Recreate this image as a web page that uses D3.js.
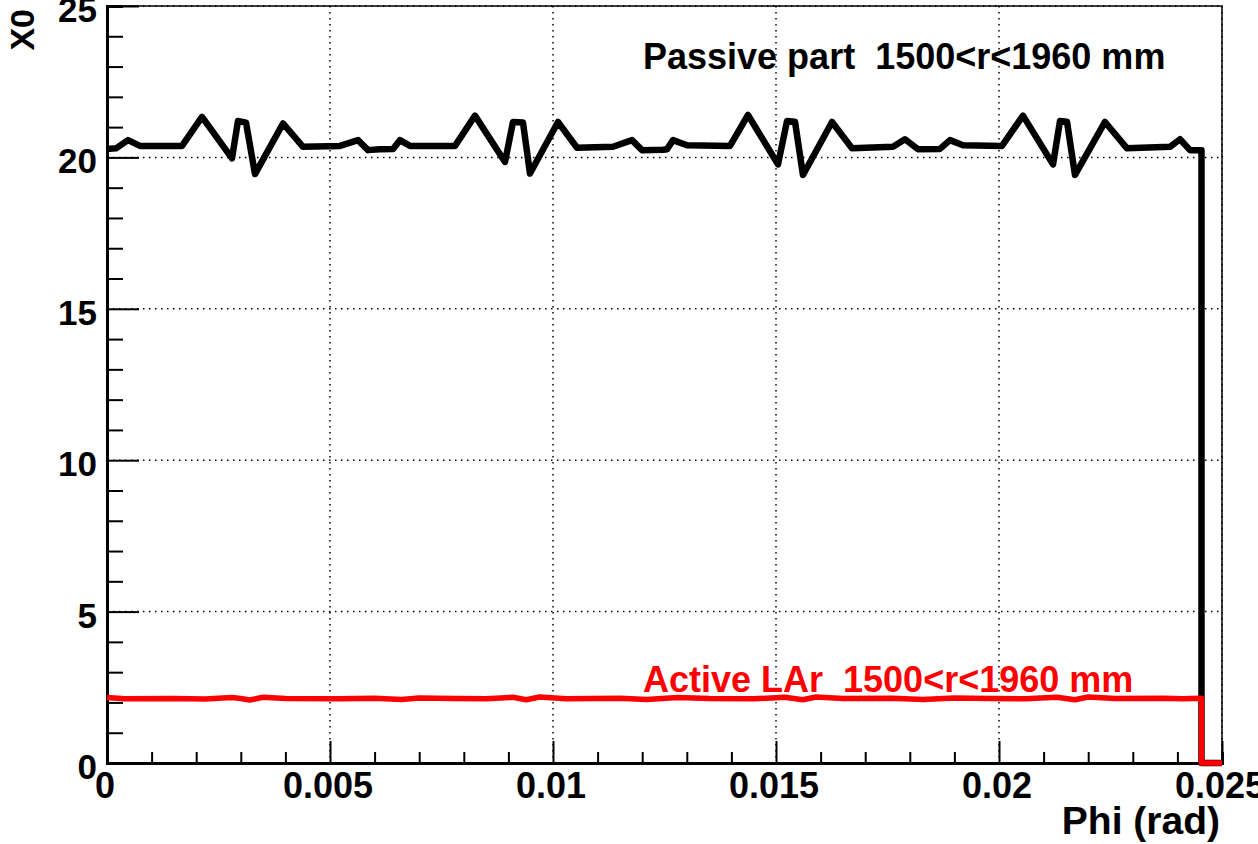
<!DOCTYPE html>
<html>
<head>
<meta charset="utf-8">
<script src="https://cdn.jsdelivr.net/npm/d3@7"></script>
<style>
  body { margin: 0; background: #fff; }
  text { font-family: "Liberation Sans", Arial, sans-serif; font-weight: bold; }
</style>
</head>
<body>
<div id="chart"></div>
<script>
// phi (rad) and X0
var passivePhi = [0, 0.000202, 0.000471, 0.000740, 0.001682, 0.002130, 0.002803, 0.002937, 0.003117, 0.003318,
    0.003946, 0.004395, 0.005224, 0.005628, 0.005852, 0.006121, 0.006413, 0.006570, 0.006794, 0.007803,
    0.008251, 0.008924, 0.009103, 0.009327, 0.009484, 0.010112, 0.010538, 0.011345, 0.011771, 0.011996,
    0.012466, 0.012556, 0.012691, 0.013004, 0.013969, 0.014372, 0.015045, 0.015247, 0.015426, 0.015605,
    0.016256, 0.016704, 0.017623, 0.017892, 0.018184, 0.018677, 0.018901, 0.019193, 0.020067, 0.020538,
    0.021211, 0.021368, 0.021525, 0.021704, 0.022377, 0.022870, 0.023834, 0.024058, 0.024283, 0.02454,
    0.02454, 0.025];
var passiveX0 = [20.28, 20.30, 20.57, 20.38, 20.38, 21.34, 19.97, 21.20, 21.15, 19.45,
    21.12, 20.35, 20.38, 20.57, 20.24, 20.27, 20.28, 20.57, 20.38, 20.38,
    21.38, 19.85, 21.17, 21.15, 19.47, 21.17, 20.32, 20.35, 20.57, 20.24,
    20.25, 20.27, 20.57, 20.40, 20.38, 21.40, 19.77, 21.20, 21.18, 19.42,
    21.17, 20.30, 20.35, 20.60, 20.27, 20.28, 20.57, 20.40, 20.38, 21.38,
    19.77, 21.20, 21.18, 19.42, 21.17, 20.30, 20.35, 20.60, 20.24, 20.24,
    0, 0];

var activePhi = [0, 0.0004, 0.0015, 0.0022, 0.0028, 0.0030, 0.0032, 0.0035, 0.0040, 0.0052,
    0.0060, 0.0066, 0.0070, 0.0078, 0.0085, 0.0091, 0.0094, 0.0097, 0.0103, 0.0115,
    0.0121, 0.0128, 0.0135, 0.0145, 0.0152, 0.0156, 0.0159, 0.0165, 0.0176, 0.0183,
    0.0190, 0.0198, 0.0206, 0.0213, 0.0217, 0.0220, 0.0226, 0.0237, 0.0241, 0.02454,
    0.02454, 0.025];
var activeX0 = [2.16, 2.12, 2.13, 2.11, 2.16, 2.13, 2.08, 2.17, 2.13, 2.12,
    2.14, 2.10, 2.15, 2.13, 2.12, 2.17, 2.09, 2.18, 2.12, 2.14,
    2.10, 2.16, 2.13, 2.12, 2.17, 2.09, 2.18, 2.13, 2.14, 2.10,
    2.15, 2.13, 2.12, 2.17, 2.09, 2.18, 2.13, 2.14, 2.12, 2.14,
    0, 0];

var xMajor = [0, 0.005, 0.01, 0.015, 0.02, 0.025];
var xLabels = ["0", "0.005", "0.01", "0.015", "0.02", "0.025"];
var yMajor = [0, 5, 10, 15, 20, 25];

var W = 1258, H = 844;
var margin = {top: 6, right: 36, bottom: 81, left: 107};
var width = W - margin.left - margin.right;
var height = H - margin.top - margin.bottom;

var svg = d3.select("#chart").append("svg")
    .attr("width", W)
    .attr("height", H);
var g = svg.append("g")
    .attr("transform", "translate(" + margin.left + "," + margin.top + ")");

var x = d3.scaleLinear().domain([0, 0.025]).range([0, width]);
var y = d3.scaleLinear().domain([0, 25]).range([height, 0]);

// dotted grid
g.selectAll(".vgrid")
    .data(xMajor.slice(1))
    .enter().append("line")
    .attr("x1", function(d) { return x(d); })
    .attr("x2", function(d) { return x(d); })
    .attr("y1", 0).attr("y2", height)
    .attr("stroke", "#000").attr("stroke-width", 1.5)
    .attr("stroke-dasharray", "1.5,4.5");
g.selectAll(".hgrid")
    .data(yMajor.slice(1))
    .enter().append("line")
    .attr("x1", 0).attr("x2", width)
    .attr("y1", function(d) { return y(d); })
    .attr("y2", function(d) { return y(d); })
    .attr("stroke", "#000").attr("stroke-width", 1.5)
    .attr("stroke-dasharray", "1.5,4.5");

// frame
g.append("rect")
    .attr("width", width).attr("height", height)
    .attr("fill", "none").attr("stroke", "#000").attr("stroke-width", 1.5);

// x axis: ticks point up into the frame
var xAxis = g.append("g")
    .attr("transform", "translate(0," + height + ")")
    .call(d3.axisBottom(x).tickValues(d3.range(0, 26).map(function(i) { return i * 0.001; }))
        .tickSize(-11).tickFormat(""));
xAxis.selectAll(".tick line")
    .attr("y2", function(d) { return Math.abs(d * 200 - Math.round(d * 200)) < 1e-6 ? -22 : -11; })
    .attr("stroke-width", 2);
xAxis.select(".domain").attr("stroke-width", 3);

g.selectAll(".xlab")
    .data(xMajor)
    .enter().append("text")
    .attr("x", function(d) { return x(d) - 2; })
    .attr("y", height + 35)
    .attr("text-anchor", "middle")
    .style("font-size", "36px")
    .text(function(d, i) { return xLabels[i]; });

// y axis
var yAxis = g.append("g")
    .call(d3.axisLeft(y).tickValues(d3.range(0, 26))
        .tickSize(-16).tickFormat(""));
yAxis.selectAll(".tick line")
    .attr("x2", function(d) { return d % 5 === 0 ? 32 : 16; })
    .attr("stroke-width", 2);
yAxis.select(".domain").attr("stroke-width", 3);

g.selectAll(".ylab")
    .data(yMajor)
    .enter().append("text")
    .attr("x", -10)
    .attr("y", function(d) { return y(d) + 16; })
    .attr("text-anchor", "end")
    .style("font-size", "35px")
    .text(function(d) { return d; });

// curves
var line = d3.line()
    .x(function(d) { return x(d[0]); })
    .y(function(d) { return y(d[1]); });

g.append("path")
    .datum(d3.zip(passivePhi, passiveX0))
    .attr("d", line)
    .attr("fill", "none")
    .attr("stroke", "#000")
    .attr("stroke-width", 6.5)
    .attr("stroke-linejoin", "round");

g.append("path")
    .datum(d3.zip(activePhi, activeX0))
    .attr("d", line)
    .attr("fill", "none")
    .attr("stroke", "#ff0000")
    .attr("stroke-width", 5.5)
    .attr("stroke-linejoin", "round");

// labels
svg.append("text")
    .attr("x", 643).attr("y", 69)
    .style("white-space", "pre")
    .style("font-size", "36px")
    .attr("fill", "#000")
    .text("Passive part  1500<r<1960 mm");

svg.append("text")
    .attr("x", 643).attr("y", 692)
    .style("white-space", "pre")
    .style("font-size", "36px")
    .attr("fill", "#ff0000")
    .text("Active LAr  1500<r<1960 mm");

svg.append("text")
    .attr("x", 1220).attr("y", 834)
    .attr("text-anchor", "end")
    .style("font-size", "39px")
    .text("Phi (rad)");

svg.append("text")
    .attr("transform", "translate(34,9) rotate(-90)")
    .attr("text-anchor", "end")
    .style("font-size", "34px")
    .text("X0");
</script>
</body>
</html>
